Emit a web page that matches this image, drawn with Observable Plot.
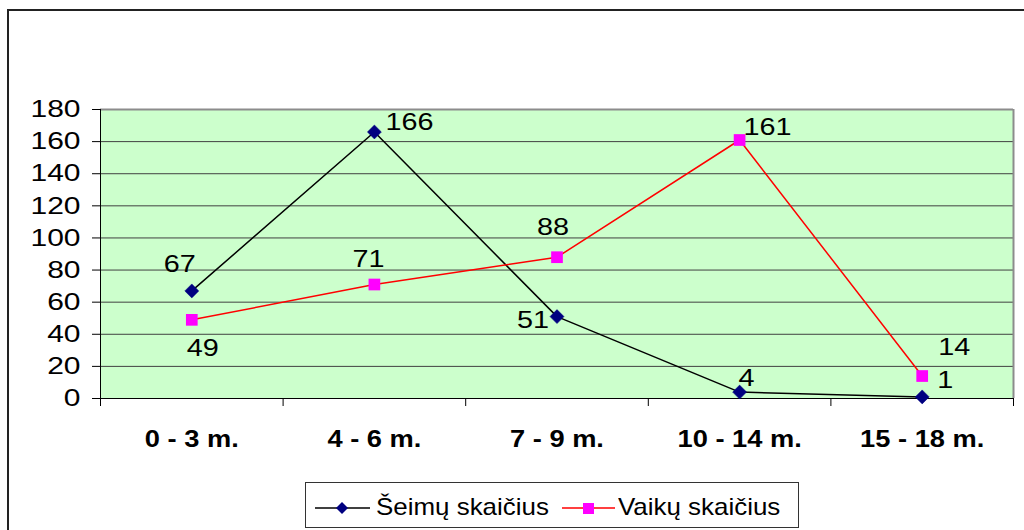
<!DOCTYPE html>
<html><head><meta charset="utf-8">
<script src="https://cdn.jsdelivr.net/npm/d3@7"></script>
<script src="https://cdn.jsdelivr.net/npm/@observablehq/plot@0.6"></script>
<style>
html,body{margin:0;padding:0;width:1024px;height:530px;overflow:hidden;background:#fff;font-family:"Liberation Sans",Arial,sans-serif;}
#frame{position:absolute;left:7px;top:9px;width:1100px;height:600px;border-left:2px solid #222;border-top:2px solid #222;}
#chart{position:absolute;left:0;top:0;}
#legend{position:absolute;left:305px;top:482px;width:492px;height:44px;border:1px solid #333;background:#fff;}
#legend svg{position:absolute;left:0;top:0;}
.lt{position:absolute;top:10px;font-size:24px;line-height:normal;white-space:nowrap;transform:scaleX(1.08);transform-origin:left center;color:#000;}
</style></head><body>
<div id="frame"></div>
<div id="chart"></div>
<div id="legend"></div>
<script>
// ---- data ----
const categories = ["0 - 3 m.", "4 - 6 m.", "7 - 9 m.", "10 - 14 m.", "15 - 18 m."];
const seriesNames = ["Šeimų skaičius", "Vaikų skaičius"];
const seimuValues = [67, 166, 51, 4, 1];
const vaikuValues = [49, 71, 88, 161, 14];
const yTicks = [0, 20, 40, 60, 80, 100, 120, 140, 160, 180];

// ---- label placement (pixel offsets of each data label) ----
const seimuLabelOffsets = [[-12, -27], [35, -10], [-24, 4], [7, -14], [23, -17]];
const vaikuLabelOffsets = [[11, 28], [-6, -25], [-4, -30], [28, -13], [32, -29]];

const seimu = seimuValues.map((v, i) => ({x: i + 0.5, value: v, series: seriesNames[0]}));
const vaiku = vaikuValues.map((v, i) => ({x: i + 0.5, value: v, series: seriesNames[1]}));

const labelMarks = [];
seimu.forEach((d, i) => labelMarks.push(Plot.text([d], {x: "x", y: "value", text: d => String(d.value), dx: seimuLabelOffsets[i][0], dy: seimuLabelOffsets[i][1], fontSize: 24, fill: "#000"})));
vaiku.forEach((d, i) => labelMarks.push(Plot.text([d], {x: "x", y: "value", text: d => String(d.value), dx: vaikuLabelOffsets[i][0], dy: vaikuLabelOffsets[i][1], fontSize: 24, fill: "#000"})));

const chart = Plot.plot({
  width: 1024, height: 470,
  marginLeft: 100, marginRight: 11, marginTop: 109, marginBottom: 72,
  style: {background: "transparent", fontFamily: "'Liberation Sans', Arial, sans-serif", fontSize: "24px", color: "#000", overflow: "visible"},
  x: {domain: [0, categories.length], label: null},
  y: {domain: [0, 180], label: null},
  marks: [
    Plot.frame({fill: "#ccffcc", stroke: "none"}),
    Plot.ruleY(yTicks.filter(t => t > 0 && t < 180), {stroke: "#404040", strokeWidth: 1}),
    Plot.ruleY([180], {stroke: "#8c8c8c", strokeWidth: 2}),
    Plot.ruleX([categories.length], {stroke: "#8c8c8c", strokeWidth: 2}),
    Plot.ruleX([0], {stroke: "#000", strokeWidth: 1}),
    Plot.ruleY([0], {stroke: "#000", strokeWidth: 1}),
    Plot.axisY({ticks: yTicks, tickSize: 8, tickPadding: 12, fontSize: 24, label: null, stroke: "#000"}),
    Plot.axisX({ticks: d3.range(categories.length + 1), tickSize: 8, tickFormat: () => "", label: null, stroke: "#000"}),
    Plot.axisX({ticks: categories.map((_, i) => i + 0.5), tickSize: 0, tickPadding: 32, tickFormat: v => categories[Math.floor(v)], fontSize: 23.5, fontWeight: "bold", label: null}),
    Plot.line(seimu, {x: "x", y: "value", stroke: "#000", strokeWidth: 1.5}),
    Plot.line(vaiku, {x: "x", y: "value", stroke: "#ff0000", strokeWidth: 1.5}),
    Plot.dot(seimu, {x: "x", y: "value", symbol: "diamond2", r: 6.3, fill: "#000080", stroke: "#000080", strokeWidth: 0.5}),
    Plot.dot(vaiku, {x: "x", y: "value", symbol: "square", r: 6.6, fill: "#ff00ff", stroke: "none"}),
    ...labelMarks
  ]
});

// widen glyphs horizontally (reference text is horizontally stretched)
function stretch(sel, k) {
  chart.querySelectorAll(sel).forEach(t => {
    const tr = t.getAttribute("transform");
    if (tr) t.setAttribute("transform", `${tr} scale(${k},1)`);
  });
}
stretch('g[aria-label="y-axis tick label"] text', 1.25);
stretch('g[aria-label="x-axis tick label"] text', 1.16);
stretch('g[aria-label="text"] text', 1.2);

document.getElementById("chart").appendChild(chart);

// ---- legend ----
const legend = document.getElementById("legend");
const ns = "http://www.w3.org/2000/svg";
const sw = document.createElementNS(ns, "svg");
sw.setAttribute("width", 492); sw.setAttribute("height", 44);
sw.innerHTML =
  `<line x1="9" y1="25" x2="64" y2="25" stroke="#000" stroke-width="1.5"/>` +
  `<path d="M36,19 L42,25 L36,31 L30,25 Z" fill="#000080"/>` +
  `<line x1="256" y1="25" x2="309" y2="25" stroke="#ff0000" stroke-width="1.5"/>` +
  `<rect x="277" y="20" width="11" height="11" fill="#ff00ff"/>`;
legend.appendChild(sw);
[[70, seriesNames[0]], [312, seriesNames[1]]].forEach(([left, name]) => {
  const s = document.createElement("span");
  s.className = "lt";
  s.style.left = left + "px";
  s.textContent = name;
  legend.appendChild(s);
});
</script>
</body></html>
